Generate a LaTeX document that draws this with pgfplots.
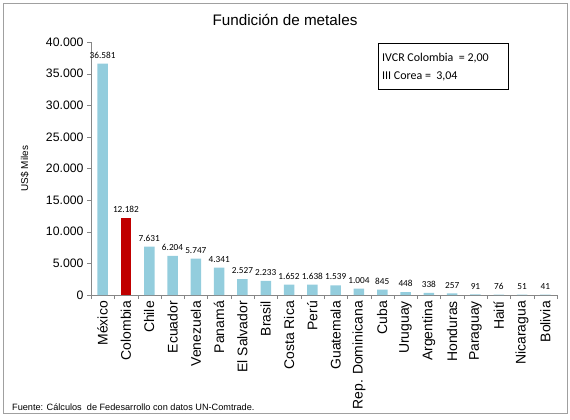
\documentclass[border=0pt]{standalone}
\usepackage{pgfplots}
\pgfplotsset{compat=1.18}
\usepackage{fontspec}
\setmainfont{Liberation Sans}
\newfontfamily\calibri{Carlito}
\definecolor{barblue}{HTML}{93CDDD}
\definecolor{barred}{HTML}{C00000}
\definecolor{axgray}{HTML}{868686}
\definecolor{framegray}{HTML}{A0A0A0}

\begin{document}
\begin{tikzpicture}[x=1bp,y=1bp]
\useasboundingbox (0,0) rectangle (570,419);
\draw[framegray, line width=0.8bp] (3,6) rectangle (567,416);
\node[font=\fontsize{15.3}{17}\selectfont] at (285,399) {Fundición de metales};
\begin{axis}[
  at={(91bp,124bp)}, anchor=south west,
  scale only axis, width=466bp, height=253bp,
  xmin=-0.5, xmax=19.5, ymin=0, ymax=40000,
  axis x line*=bottom, axis y line*=left,
  axis line style={axgray,-},
  tick style={axgray}, tick align=outside,
  major tick length=4bp, minor tick length=4bp,
  ytick={0,5000,...,40000},
  scaled y ticks=false,
  /pgf/number format/.cd, fixed, precision=0, 1000 sep={.}, assume math mode=true,
  /pgfplots/.cd,
  yticklabel style={font=\fontsize{12.3}{14}\selectfont},
  xtick={0,...,19},
  major x tick style={draw=none},
  minor xtick={-0.5,0.5,...,19.5},
  xticklabels={México,Colombia,Chile,Ecuador,Venezuela,Panamá,El Salvador,Brasil,Costa Rica,Perú,Guatemala,Rep. Dominicana,Cuba,Uruguay,Argentina,Honduras,Paraguay,Haití,Nicaragua,Bolivia},
  xticklabel style={rotate=90, anchor=east, font=\fontsize{14}{16}\selectfont, inner sep=2bp},
  ylabel={US\$ Miles},
  ylabel style={at={(axis description cs:-0.142,0.5)}, anchor=center, font=\fontsize{10}{12}\selectfont},
  ybar, bar width=10.5bp,
  nodes near coords,
  nodes near coords style={font=\calibri\fontsize{9.3}{10}\selectfont, text=black, inner sep=2bp, yshift=3bp},
  clip=false,
]
\addplot[fill=barblue, draw=none, bar shift=0pt] coordinates {
(0,36581) (2,7631) (3,6204) (4,5747) (5,4341) (6,2527) (7,2233) (8,1652) (9,1638)
(10,1539) (11,1004) (12,845) (13,448) (14,338) (15,257) (16,91) (17,76) (18,51) (19,41)};
\addplot[fill=barred, draw=none, bar shift=0pt] coordinates {(1,12182)};
\end{axis}
\draw[black, line width=0.8bp] (378,330) rectangle (508,376);
\node[anchor=west, font=\calibri\fontsize{12}{14}\selectfont, inner sep=0] at (382,361) {IVCR Colombia\ \ = 2,00};
\node[anchor=west, font=\calibri\fontsize{12}{14}\selectfont, inner sep=0] at (382,343) {III Corea =\ \ 3,04};
\node[anchor=west, font=\fontsize{9.2}{11}\selectfont, inner sep=0] at (12,12) {Fuente: Cálculos\ \ de Fedesarrollo con datos UN-Comtrade.};
\end{tikzpicture}
\end{document}
